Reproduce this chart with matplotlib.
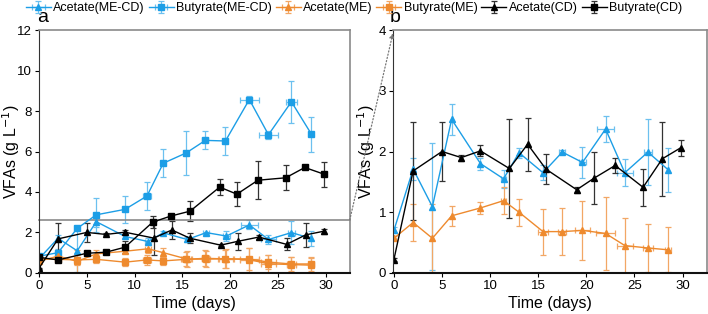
import matplotlib.pyplot as plt
from matplotlib.patches import ConnectionPatch

plt.rcParams['font.family'] = ['Liberation Sans', 'DejaVu Sans']

BLUE = '#1c9ee6'
ORANGE = '#ee8a2e'
BLACK = '#000000'

# Acetate(ME-CD)
ac_mecd_day = [0, 2, 4, 6, 9, 11.4, 13, 15.5, 17.5, 19.6, 22, 24, 26.4, 28.5]
ac_mecd_val = [0.70, 1.71, 1.09, 2.53, 1.80, 1.55, 1.98, 1.65, 1.99, 1.82, 2.37, 1.65, 1.99, 1.70]
ac_mecd_err = [0.05, 0.18, 1.05, 0.25, 0.10, 0.15, 0.08, 0.12, 0.03, 0.26, 0.22, 0.22, 0.55, 0.36]
ac_mecd_xerr = [0, 0, 0, 0, 0, 0.3, 0, 0, 0.3, 0.4, 0.9, 0.8, 0.4, 0]

# Butyrate(ME-CD)
bu_mecd_day = [0, 2, 4, 6, 9, 11.3, 13, 15.4, 17.4, 19.5, 22, 24, 26.4, 28.5]
bu_mecd_val = [0.82, 1.0, 2.2, 2.87, 3.14, 3.8, 5.42, 5.93, 6.55, 6.52, 8.57, 6.83, 8.46, 6.85]
bu_mecd_err = [0.10, 0.20, 0.10, 0.85, 0.65, 0.70, 0.68, 1.10, 0.45, 0.68, 0.15, 0.20, 1.05, 0.88]
bu_mecd_xerr = [0, 0, 0, 0, 0, 0.4, 0, 0, 0.3, 0, 1.0, 1.0, 0.6, 0]

# Acetate(ME)
ac_me_day = [0, 2, 4, 6, 9, 11.4, 13, 15.5, 17.5, 19.6, 22, 24, 26.4, 28.5]
ac_me_val = [0.57, 0.83, 0.57, 0.94, 1.07, 1.19, 1.00, 0.68, 0.68, 0.70, 0.65, 0.45, 0.41, 0.38]
ac_me_err = [0.03, 0.30, 0.56, 0.17, 0.10, 0.22, 0.22, 0.38, 0.39, 0.48, 0.60, 0.45, 0.39, 0.37]
ac_me_xerr = [0, 0, 0, 0, 0, 0.3, 0, 0.5, 0.4, 0.8, 1.0, 0.8, 0.5, 0.3]

# Butyrate(ME)
bu_me_day = [0, 2, 4, 6, 9, 11.3, 13, 15.4, 17.4, 19.5, 22, 24, 26.4, 28.5]
bu_me_val = [0.70, 0.67, 0.64, 0.67, 0.53, 0.64, 0.59, 0.67, 0.72, 0.69, 0.69, 0.53, 0.44, 0.44]
bu_me_err = [0.05, 0.10, 0.25, 0.20, 0.20, 0.25, 0.20, 0.35, 0.40, 0.45, 0.55, 0.35, 0.35, 0.35]
bu_me_xerr = [0, 0, 0, 0, 0, 0.4, 0, 0.5, 0.4, 0.8, 1.0, 0.8, 0.5, 0.3]

# Acetate(CD)
ac_cd_day = [0, 2, 5, 7, 9, 12, 13.9, 15.8, 19, 20.8, 23, 25.9, 27.9, 29.8]
ac_cd_val = [0.22, 1.68, 2.00, 1.90, 2.01, 1.72, 2.12, 1.71, 1.37, 1.56, 1.77, 1.41, 1.88, 2.06]
ac_cd_err = [0.02, 0.81, 0.48, 0.05, 0.09, 0.82, 0.44, 0.25, 0.05, 0.43, 0.12, 0.30, 0.61, 0.13]

# Butyrate(CD)
bu_cd_day = [0, 2, 5, 7, 9, 11.9, 13.8, 15.8, 18.9, 20.7, 22.9, 25.8, 27.8, 29.8]
bu_cd_val = [0.77, 0.64, 0.97, 1.02, 1.27, 2.51, 2.81, 3.05, 4.24, 3.89, 4.58, 4.70, 5.21, 4.88]
bu_cd_err = [0.10, 0.05, 0.05, 0.10, 0.30, 0.30, 0.10, 0.50, 0.40, 0.60, 0.93, 0.62, 0.05, 0.62]

ZOOM_TOP = 2.62


def series(ax, x, y, yerr, xerr, color, marker, label, ecolor):
    ax.errorbar(x, y, yerr=yerr, xerr=xerr, color=color, marker=marker,
                markersize=4.5, linewidth=1, ecolor=ecolor, elinewidth=0.9,
                capsize=2.5, capthick=0.9, label=label)


def style_axes(ax, ymax, yticks, ylab_x):
    ax.set_xlim(0, 32.5)
    ax.set_ylim(0, ymax)
    ax.set_xticks([0, 5, 10, 15, 20, 25, 30])
    ax.set_yticks(yticks)
    ax.tick_params(direction='out', length=3, pad=2, labelsize=9.5, top=False, right=False)
    ax.spines['left'].set_color('#333333')
    ax.spines['bottom'].set_color('#111111')
    ax.spines['bottom'].set_linewidth(1.5)
    for s in ['top', 'right']:
        ax.spines[s].set_color('#8a8a8a')
        ax.spines[s].set_linewidth(1.2)
    ax.set_xlabel('Time (days)', fontsize=11.5, labelpad=3)
    ax.set_ylabel('VFAs (g L$^{-1}$)', fontsize=11.5)
    ax.yaxis.set_label_coords(ylab_x, 0.5)


fig = plt.figure(figsize=(7.08, 3.14), dpi=100)
ax_a = fig.add_axes([0.055, 0.131, 0.439, 0.773])
ax_b = fig.add_axes([0.555, 0.131, 0.443, 0.773])

blue_e = '#6cc0ef'
orange_e = '#f2a765'
black_e = '#333333'

series(ax_a, ac_mecd_day, ac_mecd_val, ac_mecd_err, ac_mecd_xerr, BLUE, '^', 'Acetate(ME-CD)', blue_e)
series(ax_a, bu_mecd_day, bu_mecd_val, bu_mecd_err, bu_mecd_xerr, BLUE, 's', 'Butyrate(ME-CD)', blue_e)
series(ax_a, ac_me_day, ac_me_val, ac_me_err, ac_me_xerr, ORANGE, '^', 'Acetate(ME)', orange_e)
series(ax_a, bu_me_day, bu_me_val, bu_me_err, bu_me_xerr, ORANGE, 's', 'Butyrate(ME)', orange_e)
series(ax_a, ac_cd_day, ac_cd_val, ac_cd_err, None, BLACK, '^', 'Acetate(CD)', black_e)
series(ax_a, bu_cd_day, bu_cd_val, bu_cd_err, None, BLACK, 's', 'Butyrate(CD)', black_e)

series(ax_b, ac_mecd_day, ac_mecd_val, ac_mecd_err, ac_mecd_xerr, BLUE, '^', None, blue_e)
series(ax_b, ac_me_day, ac_me_val, ac_me_err, ac_me_xerr, ORANGE, '^', None, orange_e)
series(ax_b, ac_cd_day, ac_cd_val, ac_cd_err, None, BLACK, '^', None, black_e)

style_axes(ax_a, 12, [0, 2, 4, 6, 8, 10, 12], -0.055)
style_axes(ax_b, 4, [0, 1, 2, 3, 4], -0.05)
ax_b.set_xlim(-0.1, 32.5)

# zoom box line in panel a
ax_a.plot([0, 32.5], [ZOOM_TOP, ZOOM_TOP], color='#8a8a8a', linewidth=1.2, clip_on=False)

con = ConnectionPatch(xyA=(32.5, ZOOM_TOP), coordsA=ax_a.transData,
                      xyB=(-0.1, 3.95), coordsB=ax_b.transData,
                      arrowstyle='-|>', linestyle=':', color='#777777',
                      linewidth=0.9, mutation_scale=7)
fig.add_artist(con)

fig.text(0.053, 0.918, 'a', fontsize=14, ha='left', va='bottom')
fig.text(0.551, 0.918, 'b', fontsize=14, ha='left', va='bottom')

handles, labels = ax_a.get_legend_handles_labels()
fig.legend(handles, labels, loc='upper center', bbox_to_anchor=(0.5, 1.0),
           ncol=6, frameon=False, fontsize=9, handlelength=2.0,
           handletextpad=0.2, columnspacing=0.3, borderaxespad=0.0,
           borderpad=0.2)

fig.savefig('out.png', dpi=100)
